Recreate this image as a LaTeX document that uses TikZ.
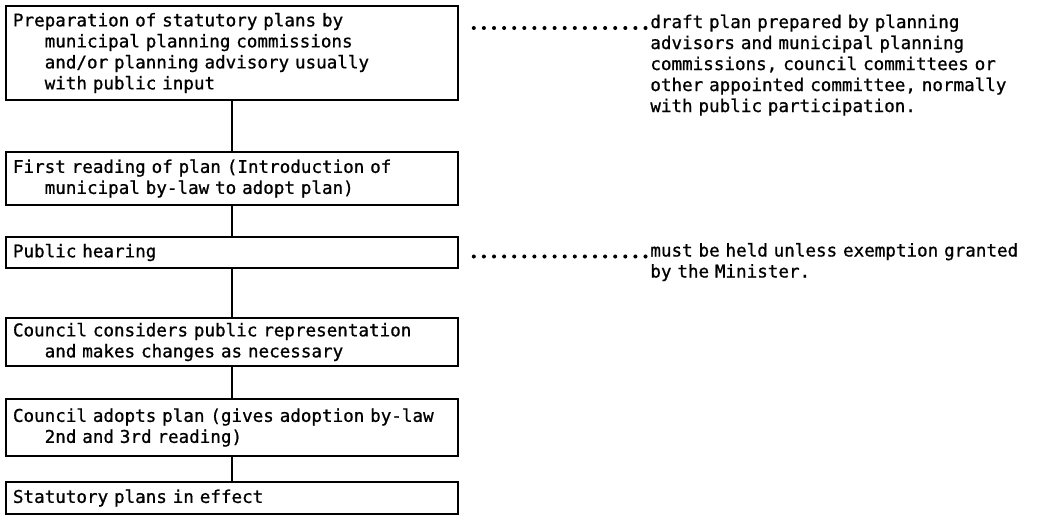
\documentclass[tikz,border=0pt]{standalone}
\usepackage{fontspec}
\setmonofont{DejaVu Sans Mono}[FakeBold=0.9]
\usepackage{tikz}
\usetikzlibrary{positioning,calc}
\tikzset{
  font=\ttfamily\fontsize{10}{11.95}\selectfont,
  sbox/.style={draw, line width=1.1pt, align=left, anchor=west,
               text width=8.76cm, inner xsep=0.14cm, inner ysep=0pt},
  note/.style={align=left, anchor=base west, text width=7.6cm, inner sep=0pt},
  link/.style={line width=1.3pt},
  leader/.style={line width=2.3pt, line cap=round, dash pattern=on 0pt off 0.202cm},
}
\newcommand{\ind}{\hphantom{000}}

\begin{document}
\begin{tikzpicture}
    \useasboundingbox (0,0) rectangle (20.76,-10.36);
    \node[sbox, minimum height=1.88cm] (prep)    at (0.1,-1.06) {Preparation of statutory plans by\\\ind municipal planning commissions\\\ind and/or planning advisory usually\\\ind with public input};
    \node[sbox, minimum height=1.06cm] (first)   at (0.1,-3.57) {First reading of plan (Introduction of\\\ind municipal by-law to adopt plan)};
    \node[sbox, minimum height=0.62cm] (hearing) at (0.1,-5.05) {Public hearing};
    \node[sbox, minimum height=0.96cm] (council) at (0.1,-6.84) {Council considers public representation\\\ind and makes changes as necessary};
    \node[sbox, minimum height=1.14cm] (adopt)   at (0.1,-8.55) {Council adopts plan (gives adoption by-law\\\ind 2nd and 3rd reading)};
    \node[sbox, minimum height=0.64cm] (effect)  at (0.1,-9.96) {Statutory plans in effect};
    \node[note] (draftnote) at (13.0,-0.56) {draft plan prepared by planning\\advisors and municipal planning\\commissions, council committees or\\other appointed committee, normally\\with public participation.};
    \node[note] (mustnote)  at (13.0,-5.13) {must be held unless exemption granted\\by the Minister.};
    \draw[link] (prep) -- (first);
    \draw[link] (first) -- (hearing);
    \draw[link] (hearing) -- (council);
    \draw[link] (council) -- (adopt);
    \draw[link] (adopt) -- (effect);
    % dots run from the note back to the box
    \draw[leader] ([xshift=-0.9mm]draftnote.base west) -- ([xshift=2.2mm]prep.east |- draftnote.base);
    \draw[leader] ([xshift=-0.9mm]mustnote.base west) -- ([xshift=2.2mm]hearing.east |- mustnote.base);
\end{tikzpicture}
\end{document}
